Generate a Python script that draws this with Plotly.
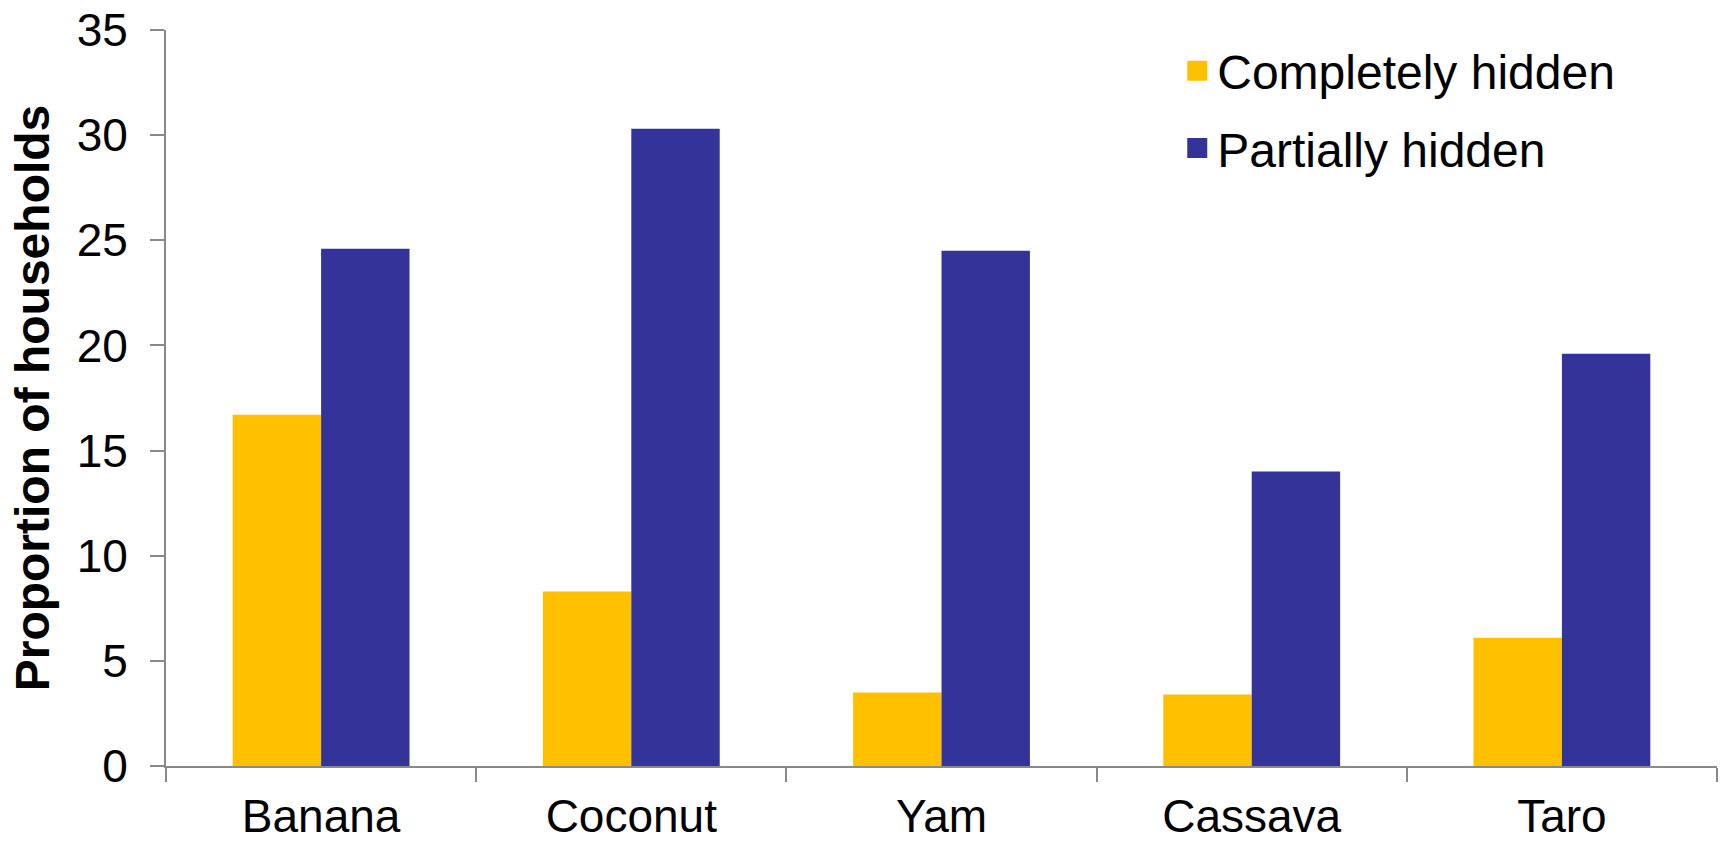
import plotly.graph_objects as go

categories = ["Banana", "Coconut", "Yam", "Cassava", "Taro"]
completely_hidden = [16.7, 8.3, 3.5, 3.4, 6.1]
partially_hidden = [24.6, 30.3, 24.5, 14.0, 19.6]
y_ticks = [0, 5, 10, 15, 20, 25, 30, 35]

YELLOW = "#FFC000"
BLUE = "#343399"
AXIS = "#898989"
FONT = "Liberation Sans, Arial, sans-serif"

fig = go.Figure()
fig.add_trace(go.Bar(x=categories, y=completely_hidden, name="Completely hidden",
                     marker=dict(color=YELLOW, line=dict(width=0)), showlegend=False))
fig.add_trace(go.Bar(x=categories, y=partially_hidden, name="Partially hidden",
                     marker=dict(color=BLUE, line=dict(width=0)), showlegend=False))
# legend entries with larger square swatches
fig.add_trace(go.Scatter(x=[None], y=[None], mode="markers", name="Completely hidden",
                         legendgroup="a",
                         marker=dict(symbol="square", size=16, color=YELLOW,
                                     line=dict(color=YELLOW, width=4))))
fig.add_trace(go.Scatter(x=[None], y=[None], mode="markers", name="Partially hidden",
                         legendgroup="b",
                         marker=dict(symbol="square", size=16, color=BLUE,
                                     line=dict(color=BLUE, width=4))))

fig.update_layout(
    width=1723, height=843,
    margin=dict(l=166, r=6, t=30, b=77),
    paper_bgcolor="white", plot_bgcolor="white",
    barmode="group", bargap=0.43, bargroupgap=0,
    font=dict(family=FONT, size=48, color="black"),
    legend=dict(x=0.652, y=0.996, xanchor="left", yanchor="top",
                bgcolor="rgba(0,0,0,0)", font=dict(size=48, family=FONT),
                itemwidth=30, tracegroupgap=12),
    xaxis=dict(showline=True, linecolor=AXIS, linewidth=2,
               ticks="outside", ticklen=14, tickcolor=AXIS, tickwidth=2,
               tickson="boundaries", showgrid=False, zeroline=False,
               ticklabelstandoff=9, automargin=False,
               tickfont=dict(size=46, family=FONT)),
    yaxis=dict(range=[0, 35], tickvals=y_ticks, showline=True, linecolor=AXIS, linewidth=2,
               ticks="outside", ticklen=14, tickcolor=AXIS, tickwidth=2,
               showgrid=False, zeroline=False, ticklabelstandoff=13, automargin=False,
               ticklabeloverflow="allow",
               tickfont=dict(size=46, family=FONT),
               title=dict(text="<b>Proportion of households</b>", standoff=12,
                          font=dict(size=48, family=FONT))),
)

# remove the default page margin so the figure fills the window exactly
fig.write_html("out.html", config={"displayModeBar": False},
               post_script="document.body.style.margin='0';")
